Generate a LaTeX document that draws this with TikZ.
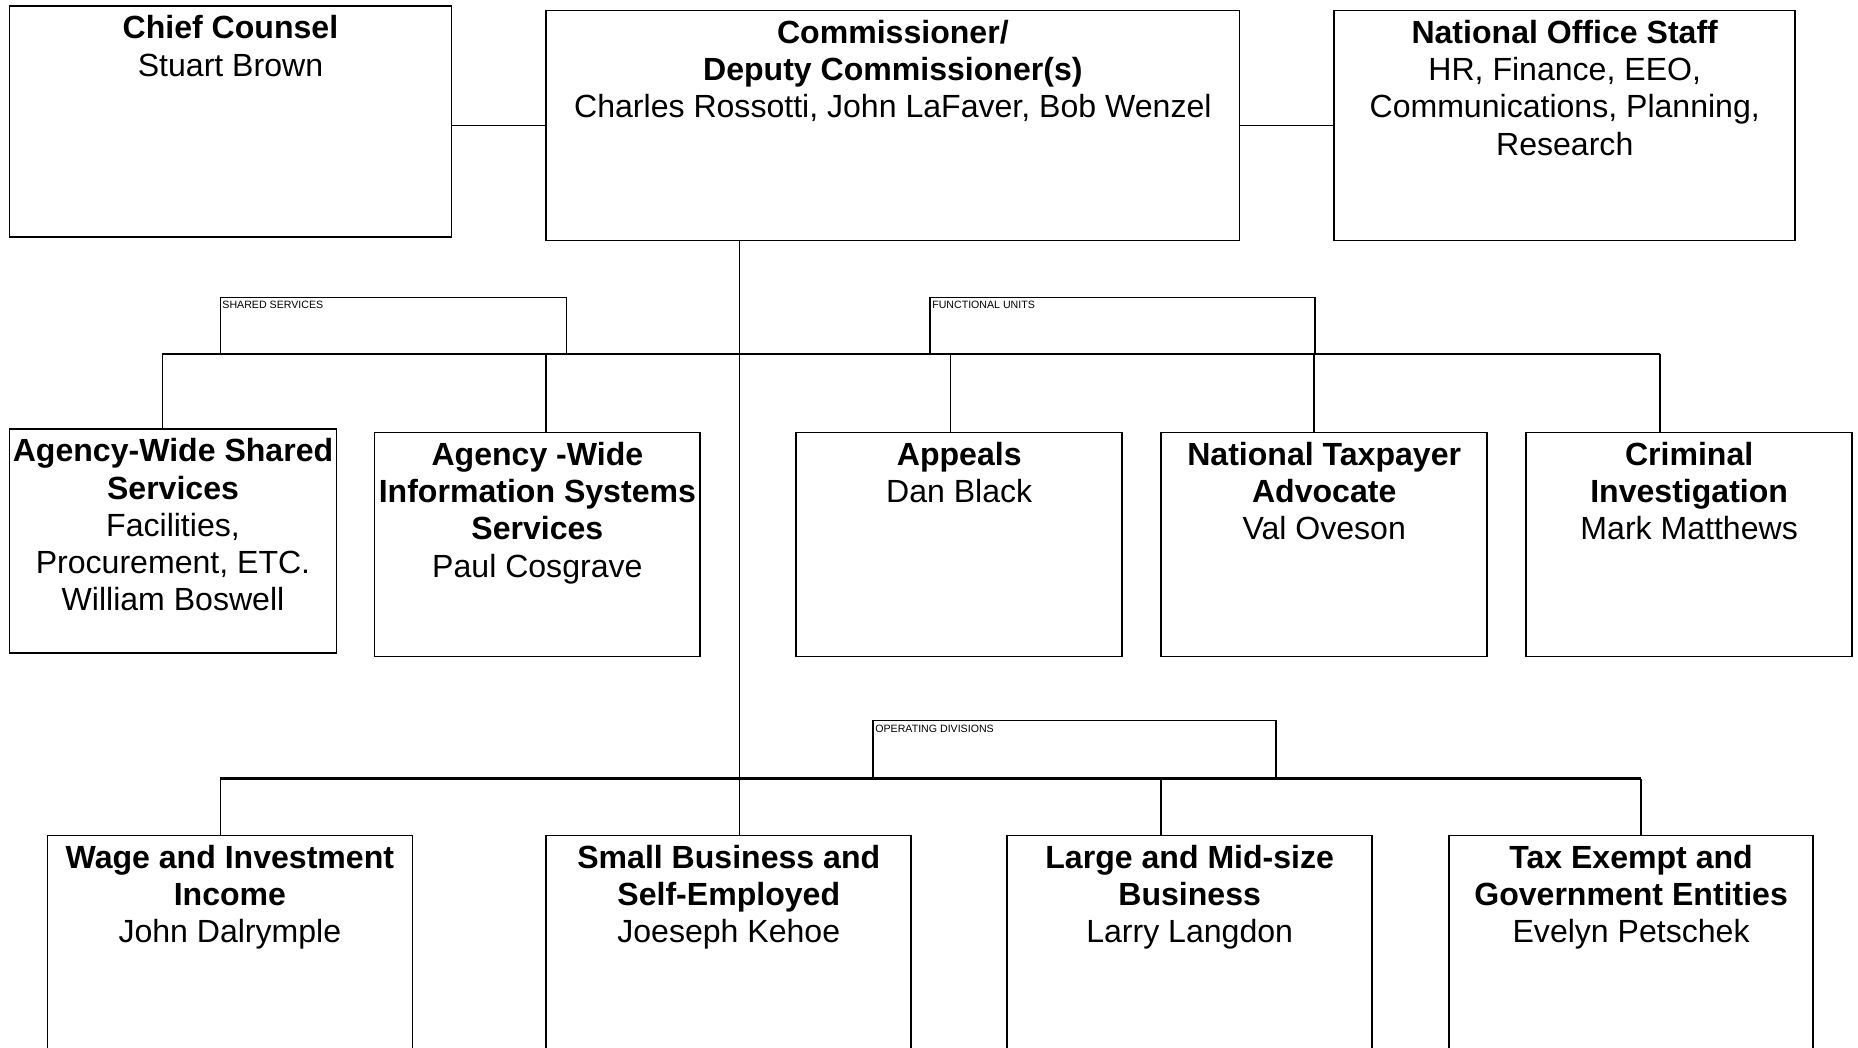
\documentclass[tikz,border=0pt]{standalone}
\usepackage{fontspec}
\setmainfont{Liberation Sans}
\usepackage{tikz}
\usetikzlibrary{positioning}
\usetikzlibrary{fit}
\newcommand{\unitfont}{\fontsize{15.4pt}{17.9pt}\selectfont}
\newcommand{\tagfont}{\fontsize{5.1pt}{6pt}\selectfont}
\tikzset{
  %unitfill/.style={fill=gray!10},
  unitbox/.style={draw=black,line width=0.8pt,inner sep=0pt},
  unittext/.style={align=center,inner sep=0pt,font=\unitfont},
  tagbox/.style={draw=black,line width=0.8pt,inner sep=0pt},
  tagtext/.style={anchor=north west,inner sep=1.2pt,yshift=-1pt,font=\tagfont},
  wire/.style={draw=black,line width=0.8pt},
  busline/.style={draw=black,line width=1.1pt}
}

\begin{document}
\begin{tikzpicture}[x=0.02cm,y=-0.02cm]
  \useasboundingbox (0,0) rectangle (1568,884);
  \clip (0,0) rectangle (1568,884);
  % top row
  \node (cc)   [unitbox,fit={(8,5) (381,200)}] {};
  \node (comm) [unitbox,fit={(461,9) (1046,203)}] {};
  \node (nos)  [unitbox,fit={(1126,9) (1515,203)}] {};
  \node (ccT)   [unittext,below=4.9pt of cc.north]   {\textbf{Chief Counsel}\\Stuart Brown};
  \node (commT) [unittext,below=4.8pt of comm.north] {\textbf{Commissioner/}\\\textbf{Deputy Commissioner(s)}\\Charles Rossotti, John LaFaver, Bob Wenzel};
  \node (nosT)  [unittext,below=4.8pt of nos.north]  {\textbf{National Office Staff}\\HR, Finance, EEO,\\Communications, Planning,\\Research};
  \draw (comm.west) -- (comm.west -| cc.east) [wire];
  \draw (comm.east) -- (nos.west) [wire];
  % middle row
  \node (awss) [unitbox,fit={(8,362) (284,551)}] {};
  \node (awis) [unitbox,fit={(316,365) (591,554)}] {};
  \node (app)  [unitbox,fit={(672,365) (947,554)}] {};
  \node (nta)  [unitbox,fit={(980,365) (1255,554)}] {};
  \node (ci)   [unitbox,fit={(1288,365) (1563,554)}] {};
  \node (awssT) [unittext,below=4.8pt of awss.north] {\textbf{Agency-Wide Shared}\\\textbf{Services}\\Facilities,\\Procurement, ETC.\\William Boswell};
  \node (awisT) [unittext,below=4.8pt of awis.north] {\textbf{Agency -Wide}\\\textbf{Information Systems}\\\textbf{Services}\\Paul Cosgrave};
  \node (appT)  [unittext,below=4.8pt of app.north]  {\textbf{Appeals}\\Dan Black};
  \node (ntaT)  [unittext,below=4.8pt of nta.north]  {\textbf{National Taxpayer}\\\textbf{Advocate}\\Val Oveson};
  \node (ciT)   [unittext,below=4.8pt of ci.north]   {\textbf{Criminal}\\\textbf{Investigation}\\Mark Matthews};
  % bottom row
  \node (wi) [unitbox,fit={(40,705) (348,900)}] {};
  \node (sb) [unitbox,fit={(461,705) (769,900)}] {};
  \node (lm) [unitbox,fit={(850,705) (1158,900)}] {};
  \node (te) [unitbox,fit={(1223,705) (1530,900)}] {};
  \node (wiT) [unittext,below=4.8pt of wi.north] {\textbf{Wage and Investment}\\\textbf{Income}\\John Dalrymple};
  \node (sbT) [unittext,below=4.8pt of sb.north] {\textbf{Small Business and}\\\textbf{Self-Employed}\\Joeseph Kehoe};
  \node (lmT) [unittext,below=4.8pt of lm.north] {\textbf{Large and Mid-size}\\\textbf{Business}\\Larry Langdon};
  \node (teT) [unittext,below=4.8pt of te.north] {\textbf{Tax Exempt and}\\\textbf{Government Entities}\\Evelyn Petschek};
  % group tags
  \node (shared) [tagbox,fit={(186,251) (478,299)}] {};
  \node (funct)  [tagbox,fit={(785,251) (1110,299)}] {};
  \node (opdiv)  [tagbox,fit={(737,608) (1077,657)}] {};
  \node (sharedT) [tagtext] at (shared.north west) {SHARED SERVICES};
  \node (functT)  [tagtext] at (funct.north west)  {FUNCTIONAL UNITS};
  \node (opdivT)  [tagtext] at (opdiv.north west)  {OPERATING DIVISIONS};
  % trunk and buses
  \coordinate (TRUNK) at (624,0);
  \coordinate (BUSA) at (0,299);
  \coordinate (BUSB) at (0,657);
  \coordinate (DA1) at (137,0);
  \coordinate (DA2) at (461,0);
  \coordinate (DA3) at (802,0);
  \coordinate (DA4) at (1109,0);
  \coordinate (DA5) at (1401,0);
  \coordinate (DB1) at (186,0);
  \coordinate (DB3) at (980,0);
  \coordinate (DB4) at (1385,0);
  \draw (TRUNK |- comm.south) -- (TRUNK |- sb.north) [wire];
  \draw (DA1 |- BUSA) -- (DA5 |- BUSA) [wire];
  \draw (DA1 |- BUSA) -- (DA1 |- awss.north) [wire];
  \draw (DA2 |- BUSA) -- (DA2 |- awis.north) [wire];
  \draw (DA3 |- BUSA) -- (DA3 |- app.north) [wire];
  \draw (DA4 |- BUSA) -- (DA4 |- nta.north) [wire];
  \draw (DA5 |- BUSA) -- (DA5 |- ci.north) [wire];
  \draw (DB1 |- BUSB) -- (DB4 |- BUSB) [busline];
  \draw (DB1 |- BUSB) -- (DB1 |- wi.north) [wire];
  \draw (DB3 |- BUSB) -- (DB3 |- lm.north) [wire];
  \draw (DB4 |- BUSB) -- (DB4 |- te.north) [wire];
\end{tikzpicture}
\end{document}
